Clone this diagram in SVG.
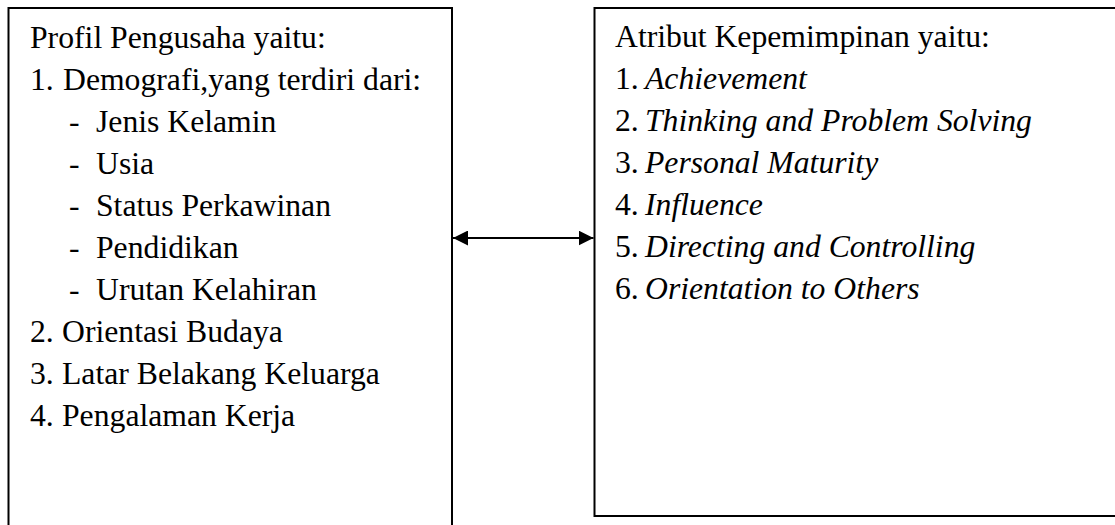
<svg xmlns="http://www.w3.org/2000/svg" width="1115" height="525" viewBox="0 0 1115 525">
<style>
.box{fill:#fff;stroke:#000;stroke-width:2}
.t{font-family:"Liberation Serif","Times New Roman",serif;font-size:31.7px;fill:#000}
.i{font-style:italic}
.conn{stroke:#000;stroke-width:2;fill:none}
</style>
<defs>
<marker id="ah" markerUnits="userSpaceOnUse" markerWidth="16" markerHeight="15" refX="15" refY="7.5" orient="auto-start-reverse" viewBox="0 0 16 15">
<path d="M0,0 L15,7.5 L0,15 z" fill="#000"/>
</marker>
</defs>
<rect width="1115" height="525" fill="#fff"/>
<g id="profil">
<rect class="box" x="8.5" y="8" width="443.5" height="530"/>
<text class="t" x="30" y="48">Profil Pengusaha yaitu:</text>
<text class="t" y="90"><tspan x="30">1.</tspan><tspan x="63">Demografi,yang terdiri dari:</tspan></text>
<text class="t" y="132"><tspan x="69">-</tspan><tspan x="96">Jenis Kelamin</tspan></text>
<text class="t" y="174"><tspan x="69">-</tspan><tspan x="96">Usia</tspan></text>
<text class="t" y="216"><tspan x="69">-</tspan><tspan x="96">Status Perkawinan</tspan></text>
<text class="t" y="258"><tspan x="69">-</tspan><tspan x="96">Pendidikan</tspan></text>
<text class="t" y="300"><tspan x="69">-</tspan><tspan x="96">Urutan Kelahiran</tspan></text>
<text class="t" y="342"><tspan x="30">2.</tspan><tspan x="62">Orientasi Budaya</tspan></text>
<text class="t" y="384"><tspan x="30">3.</tspan><tspan x="62">Latar Belakang Keluarga</tspan></text>
<text class="t" y="426"><tspan x="30">4.</tspan><tspan x="62">Pengalaman Kerja</tspan></text>
</g>
<g id="atribut">
<rect class="box" x="594.5" y="8" width="600" height="508"/>
<text class="t" x="615" y="47">Atribut Kepemimpinan yaitu:</text>
<text class="t" y="89"><tspan x="615">1.</tspan><tspan class="i" x="645">Achievement</tspan></text>
<text class="t" y="131"><tspan x="615">2.</tspan><tspan class="i" x="645">Thinking and Problem Solving</tspan></text>
<text class="t" y="173"><tspan x="615">3.</tspan><tspan class="i" x="645">Personal Maturity</tspan></text>
<text class="t" y="215"><tspan x="615">4.</tspan><tspan class="i" x="645">Influence</tspan></text>
<text class="t" y="257"><tspan x="615">5.</tspan><tspan class="i" x="645">Directing and Controlling</tspan></text>
<text class="t" y="299"><tspan x="615">6.</tspan><tspan class="i" x="645">Orientation to Others</tspan></text>
</g>
<g id="connectors">
<line class="conn" x1="453" y1="238" x2="593.5" y2="238" marker-start="url(#ah)" marker-end="url(#ah)"/>
</g>
</svg>
